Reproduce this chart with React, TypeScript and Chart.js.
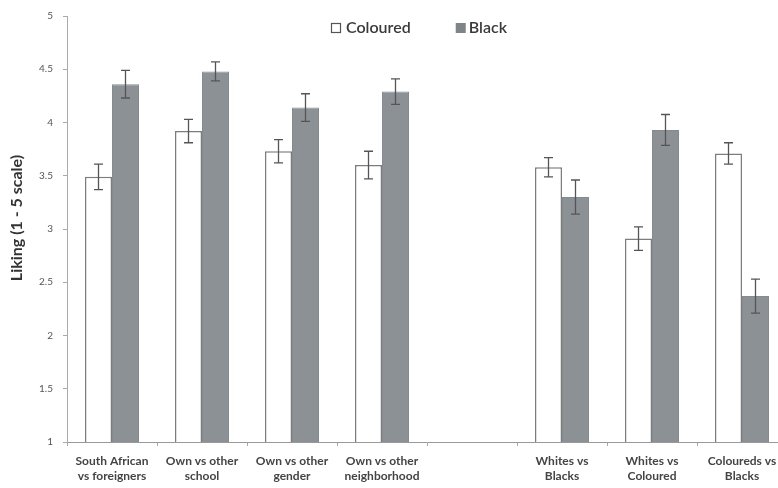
import React, { useEffect, useRef } from "react";
import { Chart, registerables } from "chart.js";

Chart.register(...registerables);

const categories: string[][] = [
  ["South African", "vs foreigners"],
  ["Own vs other", "school"],
  ["Own vs other", "gender"],
  ["Own vs other", "neighborhood"],
  [""],
  ["Whites vs", "Blacks"],
  ["Whites vs", "Coloured"],
  ["Coloureds vs", "Blacks"],
];

const seriesNames: string[] = ["Coloured", "Black"];
const colouredValues: (number | null)[] = [3.49, 3.92, 3.73, 3.6, null, 3.58, 2.91, 3.71];
const colouredErrors: (number | null)[] = [0.12, 0.11, 0.11, 0.13, null, 0.09, 0.11, 0.1];
const blackValues: (number | null)[] = [4.36, 4.48, 4.14, 4.29, null, 3.3, 3.93, 2.37];
const blackErrors: (number | null)[] = [0.13, 0.09, 0.13, 0.12, null, 0.16, 0.145, 0.16];

const yTicks: number[] = [1, 1.5, 2, 2.5, 3, 3.5, 4, 4.5, 5];
const yTitle = "Liking (1 - 5 scale)";

const FONT = "Lato, 'Open Sans', sans-serif";

const errorBarPlugin = {
  id: "errorBars",
  afterDatasetsDraw(chart: any) {
    const ctx = chart.ctx;
    const yScale = chart.scales.y;
    const errs = [colouredErrors, blackErrors];
    const vals = [colouredValues, blackValues];
    ctx.save();
    ctx.strokeStyle = "#555";
    ctx.lineWidth = 1.3;
    chart.data.datasets.forEach((_ds: any, di: number) => {
      const meta = chart.getDatasetMeta(di);
      meta.data.forEach((bar: any, i: number) => {
        const v = vals[di][i];
        const e = errs[di][i];
        if (v == null || e == null) return;
        const x = bar.x;
        const yTop = yScale.getPixelForValue(v + e);
        const yBot = yScale.getPixelForValue(v - e);
        const cap = 4.5;
        ctx.beginPath();
        ctx.moveTo(x, yTop);
        ctx.lineTo(x, yBot);
        ctx.moveTo(x - cap, yTop);
        ctx.lineTo(x + cap, yTop);
        ctx.moveTo(x - cap, yBot);
        ctx.lineTo(x + cap, yBot);
        ctx.stroke();
      });
    });
    ctx.restore();
  },
};

const legendPlugin = {
  id: "customLegend",
  afterDraw(chart: any) {
    const ctx = chart.ctx;
    const area = chart.chartArea;
    const cx = (area.left + area.right) / 2 - 8.5;
    const y = area.top + 12;
    ctx.save();
    ctx.font = `600 16px ${FONT}`;
    ctx.textBaseline = "middle";
    const box = 10;
    const gap = 45;
    const w0 = box + 5 + ctx.measureText(seriesNames[0]).width;
    const w1 = box + 3 + ctx.measureText(seriesNames[1]).width;
    let x = Math.round(cx - (w0 + gap + w1) / 2);
    ctx.fillStyle = "#fff";
    ctx.fillRect(x, y - box / 2, box, box);
    ctx.strokeStyle = "#555";
    ctx.lineWidth = 1.2;
    ctx.strokeRect(x + 0.5, y - box / 2 + 0.5, box - 1, box - 1);
    ctx.fillStyle = "#3a3a3a";
    ctx.fillText(seriesNames[0], x + box + 5, y);
    x += w0 + gap;
    ctx.fillStyle = "#7f8489";
    ctx.fillRect(x, y - box / 2, box, box);
    ctx.fillStyle = "#3a3a3a";
    ctx.fillText(seriesNames[1], x + box + 3, y);

    // y-axis title
    ctx.translate(17, 218);
    ctx.rotate(-Math.PI / 2);
    ctx.font = `bold 16px ${FONT}`;
    ctx.textAlign = "center";
    ctx.fillStyle = "#333";
    ctx.fillText(yTitle, 0, 0);
    ctx.restore();
  },
};

export default function App() {
  const ref = useRef<HTMLCanvasElement | null>(null);

  useEffect(() => {
    document.body.style.margin = "0";
    if (!ref.current) return;
    const chart = new Chart(ref.current, {
      type: "bar",
      data: {
        labels: categories,
        datasets: [
          {
            label: seriesNames[0],
            data: colouredValues,
            backgroundColor: "#ffffff",
            borderColor: "#7d7d7d",
            borderWidth: 1.5,
            categoryPercentage: 0.6,
            barPercentage: 1,
          },
          {
            label: seriesNames[1],
            data: blackValues,
            backgroundColor: "#8c9196",
            borderColor: "#858a8f",
            borderWidth: 1,
            categoryPercentage: 0.6,
            barPercentage: 1,
          },
        ],
      },
      options: {
        animation: false,
        responsive: false,
        maintainAspectRatio: false,
        layout: { padding: { top: 15, right: 13, left: 0, bottom: 0 } },
        plugins: {
          tooltip: { enabled: false },
          legend: { display: false },
        },
        scales: {
          x: {
            grid: {
              display: true,
              drawOnChartArea: false,
              drawTicks: true,
              tickLength: 4,
              offset: true,
              color: "#aaa",
            },
            border: { display: true, color: "#999" },
            ticks: {
              font: { family: FONT, size: 12, weight: "bold", lineHeight: 1.25 },
              color: "#444",
              maxRotation: 0,
              autoSkip: false,
              padding: 8,
            },
            afterFit: (scale: any) => {
              scale.height = 46;
            },
          },
          y: {
            min: 1,
            max: 5,
            afterBuildTicks: (scale: any) => {
              scale.ticks = yTicks.map((v) => ({ value: v }));
            },
            grid: {
              display: true,
              drawOnChartArea: false,
              drawTicks: true,
              tickLength: 4,
              color: "#aaa",
            },
            border: { display: true, color: "#aaa" },
            ticks: {
              font: { family: FONT, size: 10 },
              color: "#555",
              padding: 10,
              callback: (v: any) => String(v),
            },
            afterFit: (scale: any) => {
              scale.width = 67;
            },
          },
        },
      },
      plugins: [errorBarPlugin, legendPlugin],
    });
    return () => chart.destroy();
  }, []);

  return (
    <div style={{ width: 778, height: 488, overflow: "hidden", background: "#fff" }}>
      <canvas ref={ref} width={800} height={488} style={{ display: "block" }} />
    </div>
  );
}
